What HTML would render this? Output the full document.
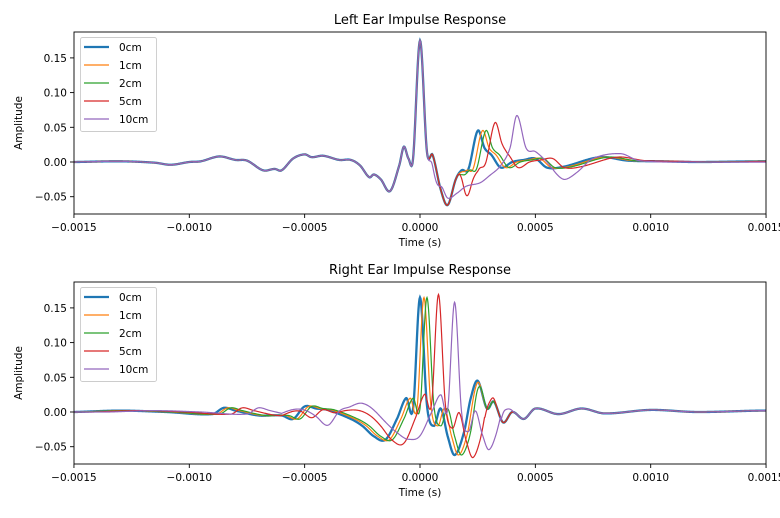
<!DOCTYPE html>
<html><head><meta charset="utf-8">
<style>
html,body{margin:0;padding:0;background:#fff;}
svg{display:block;font-family:"DejaVu Sans","Liberation Sans",sans-serif;}
</style></head>
<body>
<svg id="s" width="780" height="518" viewBox="0 0 780 518" xmlns="http://www.w3.org/2000/svg"></svg>
<script>
const S=document.getElementById('s');
const NS='http://www.w3.org/2000/svg';
function el(t,a,txt){const e=document.createElementNS(NS,t);for(const k in a)e.setAttribute(k,a[k]);if(txt!==undefined)e.textContent=txt;S.appendChild(e);return e;}
const L=74,R=766;
const X=t=>420+t*23.07;
function Y(v,off){return off+162-v*694;}
function cr(pts){return function(t){
  if(t<=pts[0][0])return pts[0][1];
  if(t>=pts[pts.length-1][0])return pts[pts.length-1][1];
  let i=0;while(pts[i+1][0]<t)i++;
  const p0=pts[Math.max(0,i-1)],p1=pts[i],p2=pts[i+1],p3=pts[Math.min(pts.length-1,i+2)];
  const u=(t-p1[0])/(p2[0]-p1[0]);
  const m1=(p2[1]-p0[1])/(p2[0]-p0[0])*(p2[0]-p1[0]);
  const m2=(p3[1]-p1[1])/(p3[0]-p1[0])*(p2[0]-p1[0]);
  const u2=u*u,u3=u2*u;
  return (2*u3-3*u2+1)*p1[1]+(u3-2*u2+u)*m1+(-2*u3+3*u2)*p2[1]+(u3-u2)*m2;
};}
const LB=cr([[-16,0],[-15,0],[-13,0.001],[-11.5,-0.001],[-10.8,-0.004],[-10,0],[-9.5,0.001],[-8.7,0.008],[-8,0.003],[-7.5,0.002],[-6.8,-0.012],[-6.3,-0.01],[-6,-0.012],[-5.5,0.005],[-5,0.011],[-4.7,0.007],[-4.2,0.009],[-3.5,0.003],[-3,0.003],[-2.6,-0.005],[-2.2,-0.022],[-2,-0.018],[-1.7,-0.025],[-1.3,-0.042],[-0.9,-0.005],[-0.7,0.022],[-0.5,0.005],[-0.3,0.005],[0,0.175],[0.3,0.015],[0.55,0.01],[0.9,-0.04],[1.2,-0.062],[1.55,-0.025],[1.8,-0.012],[2.1,-0.01],[2.5,0.045],[2.8,0.02],[3.1,0.01],[3.5,-0.008],[4,0],[4.5,0.003],[5,0.005],[5.5,-0.008],[6.2,-0.007],[7.8,0.007],[9,0.002],[10.5,0.001],[12,0],[15,0.001],[17,0]]);
const L10=cr([[-16,0],[0.9,-0.035],[1.2,-0.052],[1.6,-0.045],[2,-0.035],[2.6,-0.03],[3,-0.02],[3.5,-0.005],[3.9,0.02],[4.2,0.067],[4.6,0.02],[5,0.015],[5.5,0.0],[6,-0.02],[6.3,-0.025],[6.8,-0.015],[7.5,0.005],[8.7,0.012],[9.5,0.002],[12,0],[17,0]]);
const RB=cr([[-16,0],[-15,0],[-13,0.002],[-11,0],[-9,-0.003],[-8.5,0.006],[-8,0.002],[-7,-0.005],[-6,-0.005],[-5.5,-0.01],[-5,0.008],[-4.5,0.005],[-4,0.003],[-3,-0.01],[-2.5,-0.02],[-2,-0.035],[-1.5,-0.04],[-1,-0.01],[-0.6,0.02],[-0.3,0.005],[0,0.165],[0.3,0.01],[0.6,-0.02],[0.9,0.005],[1.2,-0.035],[1.5,-0.062],[1.9,-0.03],[2.2,0.02],[2.5,0.045],[2.9,0.005],[3.2,0.015],[3.6,-0.015],[4,0],[4.5,-0.01],[5,0.005],[6,-0.003],[7,0.005],[8,-0.002],[10,0.003],[12,0],[15,0.002],[17,0]]);
const sm=(a,b,t)=>{let x=Math.min(1,Math.max(0,(t-a)/(b-a)));return x*x*(3-2*x);};
const cols=['#1f77b4','#ff7f0e','#2ca02c','#d62728','#9467bd'];
const names=['0cm','1cm','2cm','5cm','10cm'];
const lshift=[0,0.2,0.35,0.75,1.6], rshift=[0,0.17,0.3,0.8,1.5];
function leftF(i){const s=lshift[i];
  if(i==4)return t=>{const w=sm(0.3,0.9,t);return (1-w)*LB(t)+w*L10(t);};
  return t=>{const w=sm(1.6,2.2,t);let v=(1-w)*LB(t)+w*LB(t-s);if(i==3&&t>2.5&&t<3.8)v+=0.012*Math.sin((t-2.5)/1.3*Math.PI);return v;};}
function rightF(i){const s=rshift[i];return t=>{const w=sm(1.8+s,2.6+s,t);let v=(1-w)*RB(t-s)+w*RB(t);if(i>=3&&t>-6&&t<2+s)v+=0.008*Math.sin((t+6)*2.2)*(i==4?1.2:0.8);return v;};}
function panel(off,title,fgen){
  el('text',{x:420,y:off+24,'text-anchor':'middle','font-size':13},title);
  const cid='c'+off;
  const cp=el('clipPath',{id:cid});const r=document.createElementNS(NS,'rect');r.setAttribute('x',L);r.setAttribute('y',off+32);r.setAttribute('width',R-L);r.setAttribute('height',182);cp.appendChild(r);
  for(let i=0;i<5;i++){const f=fgen(i);let d='';for(let px=L;px<=R;px+=0.5){const t=(px-420)/23.07;d+=(d?'L':'M')+px.toFixed(1)+' '+Y(f(t),off).toFixed(2);}
    el('path',{d:d,fill:'none',stroke:cols[i],'stroke-width':i==0?2.3:1.2,'clip-path':'url(#'+cid+')'});}
  el('rect',{x:L,y:off+32,width:R-L,height:182,fill:'none',stroke:'#000','stroke-width':0.9});
  [[-0.05,'−0.05'],[0,'0.00'],[0.05,'0.05'],[0.10,'0.10'],[0.15,'0.15']].forEach(([v,s])=>{const y=Y(v,off);el('line',{x1:L-4,x2:L,y1:y,y2:y,stroke:'#000','stroke-width':0.9});el('text',{x:L-7,y:y+4,'text-anchor':'end','font-size':10.5},s);});
  [[-15,'−0.0015'],[-10,'−0.0010'],[-5,'−0.0005'],[0,'0.0000'],[5,'0.0005'],[10,'0.0010'],[15,'0.0015']].forEach(([t,s])=>{const x=X(t);el('line',{x1:x,x2:x,y1:off+214,y2:off+218,stroke:'#000','stroke-width':0.9});el('text',{x:x,y:off+231,'text-anchor':'middle','font-size':10.5},s);});
  el('text',{x:420,y:off+246,'text-anchor':'middle','font-size':10.5},'Time (s)');
  el('text',{x:0,y:0,'text-anchor':'middle','font-size':10.5,transform:'translate(22,'+(off+123)+') rotate(-90)'},'Amplitude');
  el('rect',{x:80.5,y:off+37.5,width:76,height:94,rx:2,fill:'#fff','fill-opacity':0.85,stroke:'#ccc','stroke-width':0.9});
  for(let i=0;i<5;i++){const y=off+47+i*18;el('line',{x1:84,x2:109,y1:y,y2:y,stroke:cols[i],'stroke-width':i==0?2.3:1.2});el('text',{x:119,y:y+4,'font-size':10.5},names[i]);}
}
panel(0,'Left Ear Impulse Response',leftF);
panel(250,'Right Ear Impulse Response',rightF);
</script>
</body></html>
